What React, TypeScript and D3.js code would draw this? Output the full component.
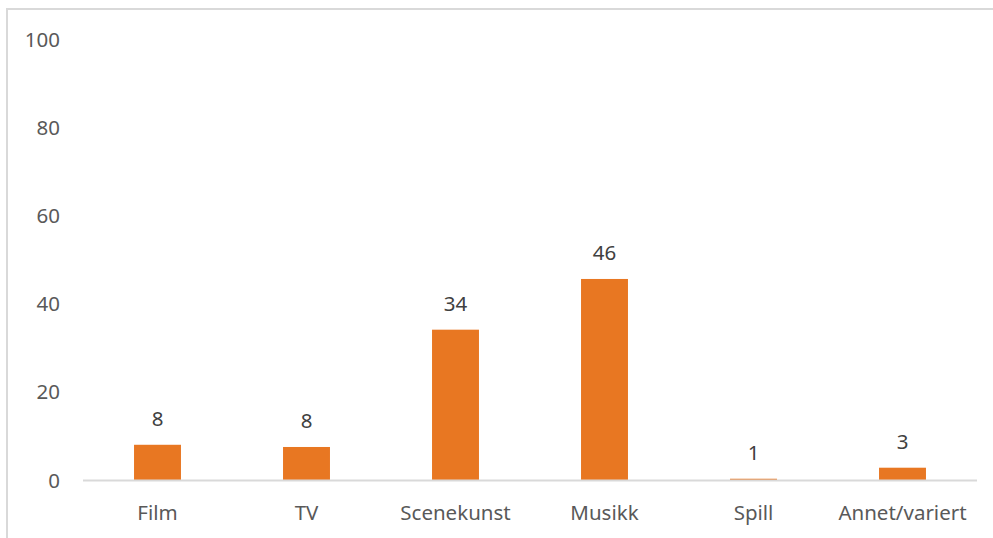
import React from "react";
import * as d3 from "d3";

const categories = ["Film", "TV", "Scenekunst", "Musikk", "Spill", "Annet/variert"];
const values = [8.1, 7.6, 34.2, 45.7, 0.4, 2.9];
const valueLabels = ["8", "8", "34", "46", "1", "3"];
const yTicks = [0, 20, 40, 60, 80, 100];

const W = 993;
const H = 538;
const FONT = "'Noto Sans', 'Open Sans', sans-serif";

export default function App() {
  const x = d3.scaleBand<string>().domain(categories).range([83, 977]).paddingInner(0.685).paddingOuter(0.3425);
  const y = d3.scaleLinear().domain([0, 100]).range([480.5, 39.5]);

  return (
    <svg width={W} height={H} style={{ position: "absolute", left: 0, top: 0, background: "#fff" }} fontFamily={FONT}>
      <rect x={7} y={9} width={1200} height={800} fill="none" stroke="#d9d9d9" strokeWidth={2} />
      {yTicks.map((t) => (
        <text key={t} x={60} y={y(t)} dy="0.35em" textAnchor="end" fontSize={20.5} fill="#595959">
          {t}
        </text>
      ))}
      {categories.map((c, i) => (
        <g key={c}>
          <rect x={x(c)} y={y(values[i])} width={x.bandwidth()} height={y(0) - y(values[i])} fill="#E87722" />
          <text x={(x(c) as number) + x.bandwidth() / 2} y={y(values[i]) - 26} dy="0.35em" textAnchor="middle" fontSize={20.5} fill="#404040">
            {valueLabels[i]}
          </text>
          <text x={(x(c) as number) + x.bandwidth() / 2} y={513} dy="0.35em" textAnchor="middle" fontSize={20.5} fill="#595959">
            {c}
          </text>
        </g>
      ))}
      <line x1={83} x2={977} y1={y(0)} y2={y(0)} stroke="#d9d9d9" strokeWidth={2} />
    </svg>
  );
}
